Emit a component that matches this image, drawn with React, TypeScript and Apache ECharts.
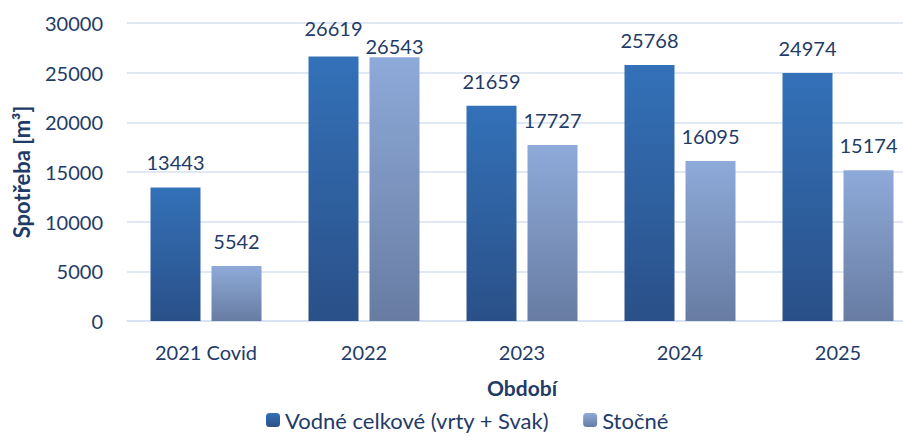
import React, { useEffect, useRef } from "react";
import * as echarts from "echarts";

const categories = ["2021 Covid", "2022", "2023", "2024", "2025"];
const vodne = [13443, 26619, 21659, 25768, 24974];
const stocne = [5542, 26543, 17727, 16095, 15174];
const seriesNames = ["Vodné celkové (vrty + Svak)", "Stočné"];

const TEXT = "#1F3B68";
const FONT = "Lato";

export default function App() {
  const ref = useRef<HTMLDivElement>(null);
  useEffect(() => {
    const chart = echarts.init(ref.current!, null, { renderer: "svg" });
    const grad = (a: string, b: string) =>
      new echarts.graphic.LinearGradient(0, 0, 0, 1, [
        { offset: 0, color: a },
        { offset: 1, color: b },
      ]);
    const label = {
      show: true,
      position: "top",
      distance: 15,
      color: TEXT,
      fontSize: 20,
      fontFamily: FONT,
    };
    chart.setOption({
      animation: false,
      textStyle: { fontFamily: FONT },
      grid: { left: 127, top: 23, right: 0, height: 298, containLabel: false },
      legend: {
        top: 404,
        left: 261,
        itemWidth: 14,
        itemHeight: 14,
        itemGap: 34,
        textStyle: { color: TEXT, fontSize: 22, fontFamily: FONT },
        data: seriesNames,
      },
      xAxis: {
        type: "category",
        data: categories,
        name: "Období",
        nameLocation: "middle",
        nameGap: 56,
        nameTextStyle: { color: TEXT, fontSize: 21, fontWeight: "bold", fontFamily: FONT },
        axisLine: { lineStyle: { color: "#D6E0F0", width: 1.5 } },
        axisTick: { show: false },
        axisLabel: { color: TEXT, fontSize: 20, margin: 21, fontFamily: FONT },
      },
      yAxis: {
        type: "value",
        min: 0,
        max: 30000,
        interval: 5000,
        name: "Spotřeba [m³]",
        nameLocation: "middle",
        nameGap: 95,
        nameRotate: 90,
        nameTextStyle: { color: TEXT, fontSize: 22, fontWeight: "bold", fontFamily: FONT },
        axisLine: { show: false },
        axisTick: { show: false },
        axisLabel: {
          color: TEXT,
          fontSize: 20,
          margin: 24,
          fontFamily: FONT,
          formatter: (v: number) => String(v),
        },
        splitLine: { lineStyle: { color: "#D6E0F0", width: 1.5 } },
      },
      series: [
        {
          name: seriesNames[0],
          type: "bar",
          data: vodne.map((v, i) =>
            i === 1 ? { value: v, label: { offset: [0, -4] } } : v
          ),
          barWidth: 50,
          barGap: "22%",
          itemStyle: { color: grad("#3371B8", "#2A5088") },
          label,
        },
        {
          name: seriesNames[1],
          type: "bar",
          data: stocne.map((v, i) =>
            i === 1 ? { value: v, label: { offset: [0, 14] } } : v
          ),
          barWidth: 50,
          itemStyle: { color: grad("#8EAAD9", "#687CA2") },
          label,
        },
      ],
    });
    return () => chart.dispose();
  }, []);
  return (
    <div
      style={{ position: "absolute", left: 0, top: 0, width: 903, height: 436, overflow: "hidden" }}
    >
      <div ref={ref} style={{ width: 917, height: 436 }} />
    </div>
  );
}
